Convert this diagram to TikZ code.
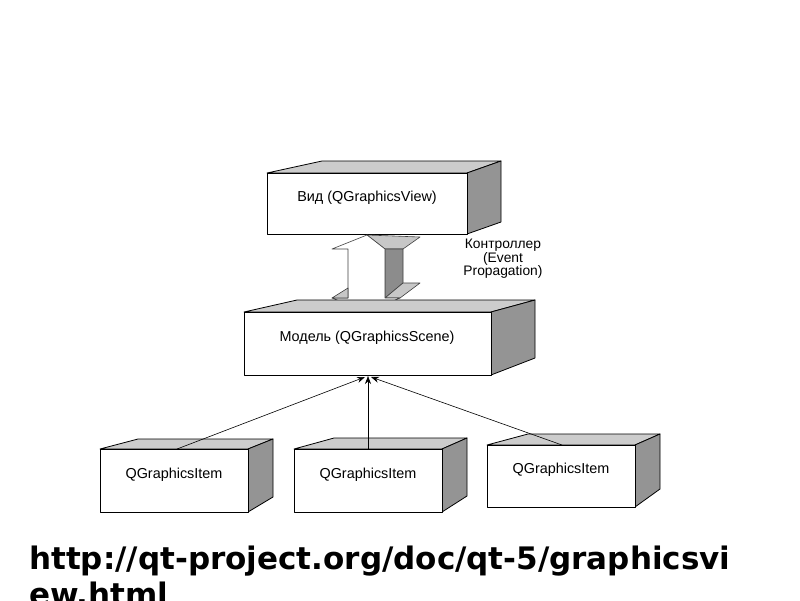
\documentclass[tikz,border=0pt]{standalone}
\usepackage{fontspec}
\setmainfont{Liberation Sans}
\newfontfamily\urlfont{DejaVu Sans}
\usetikzlibrary{arrows.meta}
\tikzset{
  front/.style={fill=white, draw=black, line width=0.8pt, line join=round},
  topface/.style={fill=black!20, draw=black, line width=0.8pt, line join=round},
  sideface/.style={fill=black!42, draw=black, line width=0.8pt, line join=round},
  arrfront/.style={fill=white, draw=black!75, line width=0.6pt, line join=round},
  arrtop/.style={fill=black!22, draw=black!75, line width=0.6pt, line join=round},
  arrside/.style={fill=black!45, draw=black!75, line width=0.6pt, line join=round},
  lbl/.style={font=\fontsize{14.4}{16}\selectfont, inner sep=0pt},
  conn/.style={draw=black, line width=0.6pt, -{Stealth[length=8pt,width=6pt]}}
}
\begin{document}
\begin{tikzpicture}[x=1pt,y=-1pt]
\useasboundingbox (0,0) rectangle (800,600);
\fill[white] (0,0) rectangle (800,600);

% ---- View box
\draw[topface] (267,173) -- (322,161) -- (501,161) -- (467,173) -- cycle;
\draw[sideface] (467,173) -- (501,161) -- (501,222) -- (467,234) -- cycle;
\draw[front] (267,173) rectangle (467,234);
\node[lbl] (view) at (367,198) {Вид (QGraphicsView)};

% ---- 3D double arrow (controller)
\draw[arrtop] (367,235) -- (420,237) -- (403,249) -- (385,249) -- cycle;
\draw[arrside] (385,249) -- (403,249) -- (403,283) -- (385,298) -- cycle;
\draw[arrtop] (385,298) -- (403,283) -- (420,283) -- (400,298) -- cycle;
\draw[arrfront] (367,235) -- (332,249) -- (348,249) -- (348,298) -- (332,298)
   -- (367,312) -- (400,298) -- (385,298) -- (385,249) -- cycle;
\draw[arrtop] (332,298) -- (348,288) -- (348,298) -- cycle;

\node[lbl, align=center, font=\fontsize{13.8}{13.5}\selectfont] (ctrl) at (503,259)
  {Контроллер\\(Event\\Propagation)};

% ---- Model box
\draw[topface] (244,312) -- (297,300) -- (535,300) -- (491,312) -- cycle;
\draw[sideface] (491,312) -- (535,300) -- (535,358) -- (491,375) -- cycle;
\draw[front] (244,312) rectangle (491,375);
\node[lbl] (model) at (367,338) {Модель (QGraphicsScene)};

% ---- Item 1
\draw[topface] (100,449) -- (138,439) -- (273,439) -- (248,449) -- cycle;
\draw[sideface] (248,449) -- (273,439) -- (273,497) -- (248,512) -- cycle;
\draw[front] (100,449) rectangle (248,512);
\node[lbl] (item1) at (174,475) {QGraphicsItem};

% ---- Item 2
\draw[topface] (294,449) -- (334,438) -- (467,438) -- (442,449) -- cycle;
\draw[sideface] (442,449) -- (467,438) -- (467,496) -- (442,512) -- cycle;
\draw[front] (294,449) rectangle (442,512);
\node[lbl] (item2) at (368,475) {QGraphicsItem};

% ---- Item 3
\draw[topface] (487,445) -- (528,434) -- (660,434) -- (635,445) -- cycle;
\draw[sideface] (635,445) -- (660,434) -- (660,489) -- (635,507) -- cycle;
\draw[front] (487,445) rectangle (635,507);
\node[lbl] (item3) at (561,470) {QGraphicsItem};

% ---- connectors
\coordinate (s1) at (177,449);
\coordinate (s2) at (368,449);
\coordinate (s3) at (562,445);
\coordinate (t1) at (365,377);
\coordinate (t2) at (368,376);
\coordinate (t3) at (371,377);
\draw[conn] (s1) -- (t1);
\draw[conn] (s2) -- (t2);
\draw[conn] (s3) -- (t3);

% ---- URL
\node[anchor=base west, inner sep=0pt, font=\urlfont\bfseries\fontsize{31}{36}\selectfont] (url1) at (29,569) {http://qt-project.org/doc/qt-5/graphicsvi};
\node[anchor=base west, inner sep=0pt, font=\urlfont\bfseries\fontsize{31}{36}\selectfont] (url2) at (29,605) {ew.html};
\end{tikzpicture}
\end{document}
